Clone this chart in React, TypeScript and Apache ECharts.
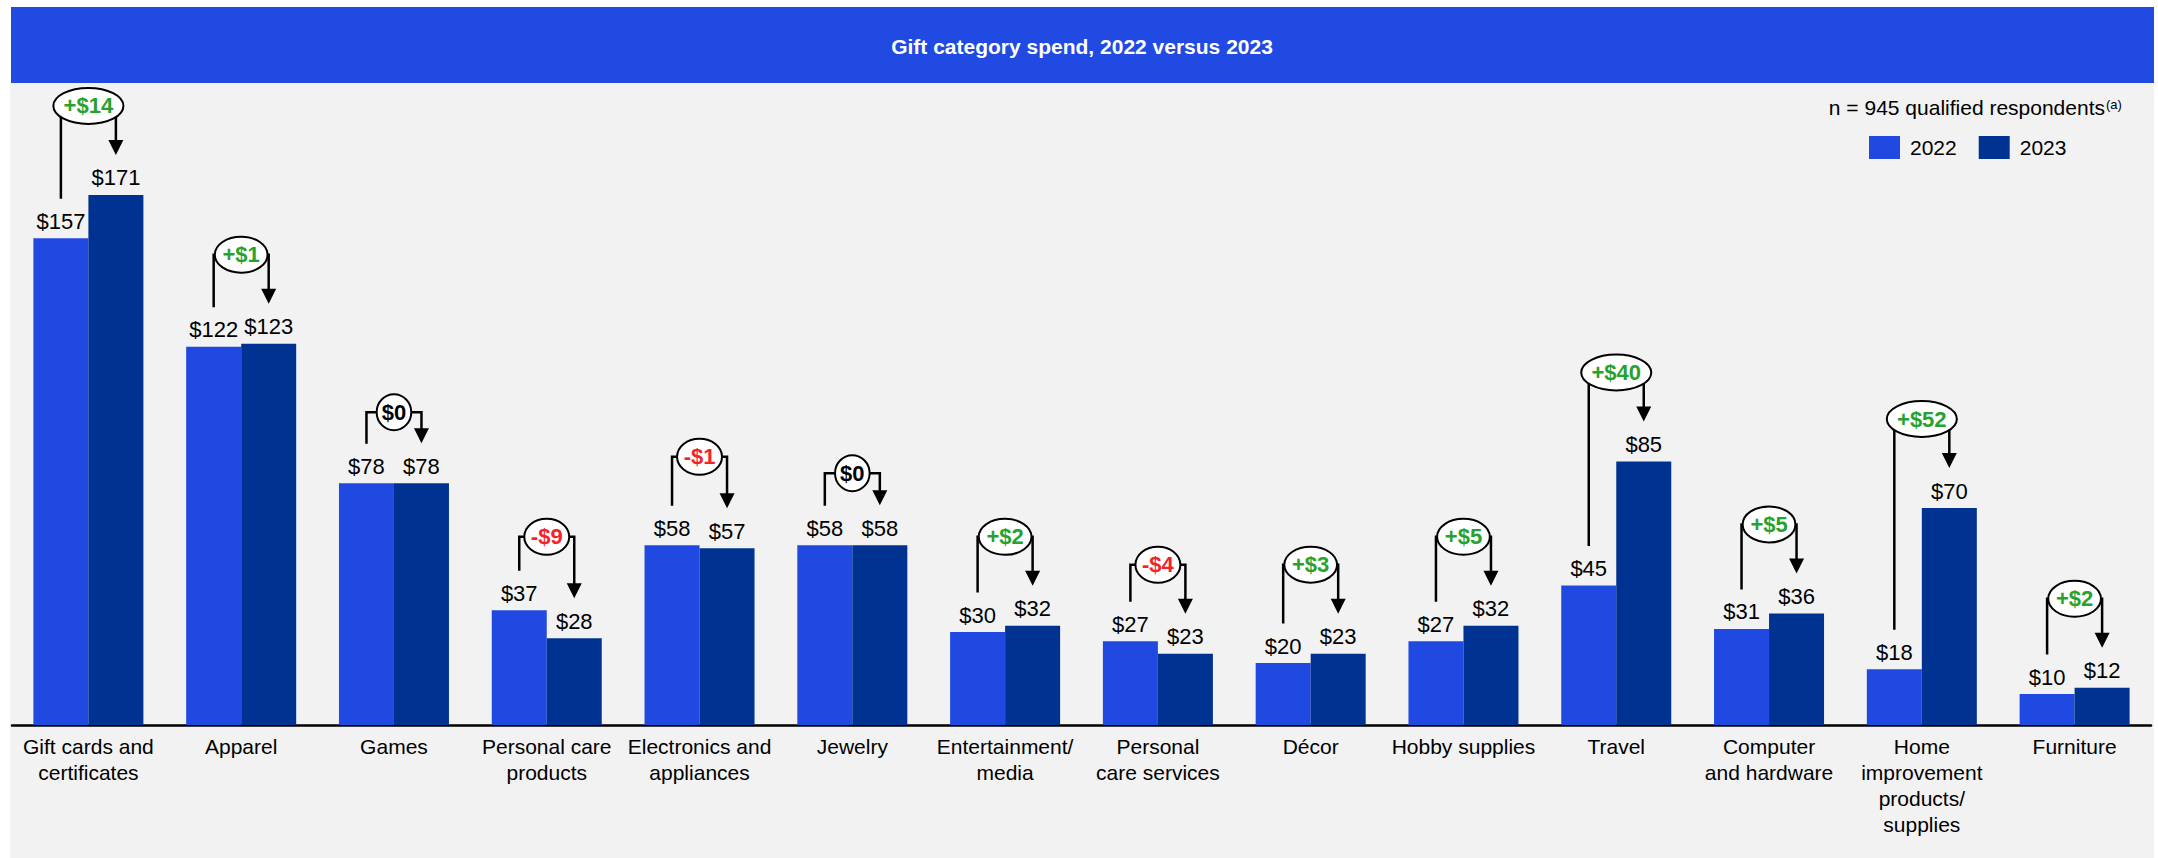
import { useEffect, useRef } from "react";
import * as echarts from "echarts";

const categories = [
  "Gift cards and\ncertificates",
  "Apparel",
  "Games",
  "Personal care\nproducts",
  "Electronics and\nappliances",
  "Jewelry",
  "Entertainment/\nmedia",
  "Personal\ncare services",
  "Décor",
  "Hobby supplies",
  "Travel",
  "Computer\nand hardware",
  "Home\nimprovement\nproducts/\nsupplies",
  "Furniture",
];
const spend2022 = [157, 122, 78, 37, 58, 58, 30, 27, 20, 27, 45, 31, 18, 10];
const spend2023 = [171, 123, 78, 28, 57, 58, 32, 23, 23, 32, 85, 36, 70, 12];
const change = [14, 1, 0, -9, -1, 0, 2, -4, 3, 5, 40, 5, 52, 2];
const seriesNames = ["2022", "2023"];
const titleText = "Gift category spend, 2022 versus 2023";
const noteText = "n = 945 qualified respondents";
const noteSup = "(a)";

// layout: pixel rise of each change bracket above the highest bar label
const bracketRise = [49, 49, 31, 34, 49, 32, 49, 37, 49, 49, 49, 49, 49, 49];

const FONT = "'Liberation Sans', Arial, Helvetica, sans-serif";
const C2022 = "#2049e2";
const C2023 = "#003391";
const GREEN = "#27a22d";
const RED = "#f5222a";
const DIFF_SIZE = 22;

let measureCtx: CanvasRenderingContext2D | null = null;
function measure(text: string): number {
  if (!measureCtx) {
    const cv = document.createElement("canvas");
    measureCtx = cv.getContext("2d");
  }
  if (!measureCtx) return text.length * 12;
  measureCtx.font = `bold ${DIFF_SIZE}px ${FONT}`;
  return measureCtx.measureText(text).width;
}

export default function App() {
  const ref = useRef<HTMLDivElement>(null);

  useEffect(() => {
    if (!ref.current) return;
    const chart = echarts.init(ref.current, undefined, { renderer: "svg" });

    const valueLabel = {
      show: true,
      position: "top",
      distance: 6,
      fontSize: 22,
      color: "#000",
      fontFamily: FONT,
      formatter: (p: any) => "$" + p.value,
    };

    const option: any = {
      animation: false,
      backgroundColor: "#ffffff",
      textStyle: { fontFamily: FONT },
      graphic: [
        {
          type: "rect",
          z: -10,
          shape: { x: 10, y: 83, width: 2144, height: 775 },
          style: { fill: "#f2f2f2" },
        },
        {
          type: "rect",
          z: -10,
          shape: { x: 11, y: 7, width: 2143, height: 76 },
          style: { fill: "#204ae2" },
        },
        {
          type: "text",
          x: 1082,
          y: 46,
          style: {
            text: titleText,
            fill: "#ffffff",
            fontSize: 21,
            fontWeight: "bold",
            fontFamily: FONT,
            align: "center",
            verticalAlign: "middle",
          },
        },
        {
          type: "text",
          x: 2105,
          y: 107,
          style: {
            text: noteText,
            fill: "#000",
            fontSize: 21,
            fontFamily: FONT,
            align: "right",
            verticalAlign: "middle",
          },
        },
        {
          type: "text",
          x: 2106,
          y: 104,
          style: {
            text: noteSup,
            fill: "#000",
            fontSize: 13,
            fontFamily: FONT,
            align: "left",
            verticalAlign: "middle",
          },
        },
      ],
      legend: {
        data: seriesNames,
        left: 1869,
        top: 136,
        padding: 0,
        itemWidth: 31,
        itemHeight: 23,
        itemGap: 22,
        icon: "rect",
        textStyle: { fontSize: 21, color: "#000", fontFamily: FONT, padding: [0, 0, 0, 5] },
      },
      grid: { left: 12, right: 7, top: 105, bottom: 133, containLabel: false },
      xAxis: {
        type: "category",
        data: categories,
        axisLine: { lineStyle: { color: "#000", width: 2.5 } },
        axisTick: { show: false },
        axisLabel: {
          interval: 0,
          fontSize: 21,
          lineHeight: 26,
          color: "#000",
          margin: 8,
          fontFamily: FONT,
        },
      },
      yAxis: { type: "value", min: 0, max: 200, show: false },
      series: [
        {
          name: seriesNames[0],
          type: "bar",
          data: spend2022,
          barGap: "0%",
          barCategoryGap: "28%",
          itemStyle: { color: C2022 },
          label: valueLabel,
        },
        {
          name: seriesNames[1],
          type: "bar",
          data: spend2023,
          barGap: "0%",
          barCategoryGap: "28%",
          itemStyle: { color: C2023 },
          label: valueLabel,
        },
        {
          type: "custom",
          name: "change",
          coordinateSystem: "cartesian2d",
          silent: true,
          clip: false,
          z: 5,
          encode: { x: 0, y: [1, 2] },
          data: categories.map((_, i) => [i, spend2022[i], spend2023[i], change[i], bracketRise[i]]),
          renderItem: (params: any, api: any) => {
            const i = api.value(0);
            const v1 = api.value(1);
            const v2 = api.value(2);
            const d = api.value(3);
            const rise = api.value(4);
            const c = api.coord([i, 0]);
            const band = api.size([1, 0])[0];
            const bw = band * 0.36;
            const xa = c[0] - bw / 2;
            const xb = c[0] + bw / 2;
            const ya = api.coord([i, v1])[1] - 39.5;
            const tip = api.coord([i, v2])[1] - 40;
            const level = Math.min(ya, tip) - rise;
            const txt = d > 0 ? `+$${d}` : d < 0 ? `-$${-d}` : "$0";
            const w = measure(txt);
            const rx = (w / 2) * 1.414;
            const color = d > 0 ? GREEN : d < 0 ? RED : "#000";
            return {
              type: "group",
              children: [
                {
                  type: "polyline",
                  shape: {
                    points: [
                      [xa, ya],
                      [xa, level],
                      [xb, level],
                      [xb, tip - 14],
                    ],
                  },
                  style: { stroke: "#000", lineWidth: 2.5, fill: null },
                },
                {
                  type: "polygon",
                  shape: {
                    points: [
                      [xb - 7.5, tip - 15],
                      [xb + 7.5, tip - 15],
                      [xb, tip],
                    ],
                  },
                  style: { fill: "#000" },
                },
                {
                  type: "ellipse",
                  shape: { cx: c[0], cy: level, rx, ry: 18 },
                  style: { fill: "#fff", stroke: "#000", lineWidth: 2 },
                },
                {
                  type: "text",
                  x: c[0],
                  y: level,
                  style: {
                    text: txt,
                    fill: color,
                    fontSize: DIFF_SIZE,
                    fontWeight: "bold",
                    fontFamily: FONT,
                    align: "center",
                    verticalAlign: "middle",
                  },
                },
              ],
            };
          },
        },
      ],
    };

    chart.setOption(option);
    return () => {
      chart.dispose();
    };
  }, []);

  return (
    <div
      ref={ref}
      style={{ position: "absolute", left: 0, top: 0, width: 2158, height: 858 }}
    />
  );
}
